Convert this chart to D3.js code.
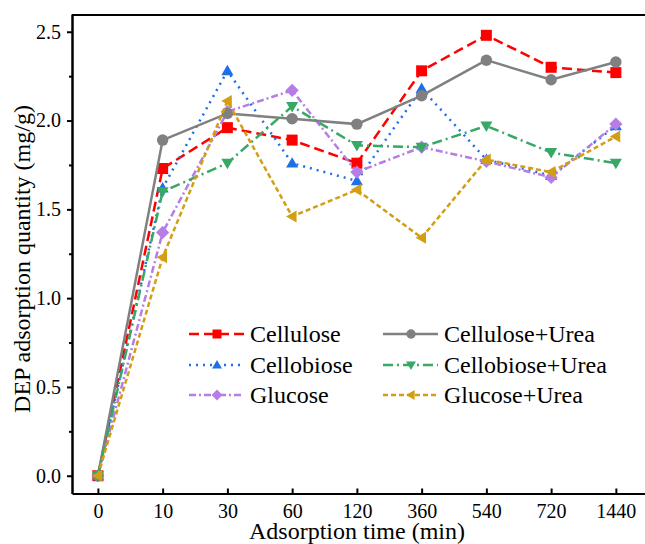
<!DOCTYPE html>
<html>
<head>
<meta charset="utf-8">
<script src="https://cdn.jsdelivr.net/npm/d3@7"></script>
<style>
  body { margin: 0; background: #fff; }
  svg { display: block; font-family: "Liberation Serif", "Times New Roman", serif; }
  svg text { font-family: "Liberation Serif", "Times New Roman", serif; fill: #000; }
  .axis path, .axis line { stroke: #000; }
  .axis text { font-size: 20px; }
</style>
</head>
<body>
<div id="chart"></div>
<script>
var times = ["0", "10", "30", "60", "120", "360", "540", "720", "1440"];

var cellulose      = [0, 1.73, 1.96, 1.89, 1.76, 2.28, 2.48, 2.30, 2.27];
var cellobiose     = [0, 1.62, 2.28, 1.76, 1.66, 2.18, 1.78, 1.69, 1.97];
var glucose        = [0, 1.37, 2.05, 2.17, 1.71, 1.85, 1.77, 1.68, 1.98];
var celluloseUrea  = [0, 1.89, 2.04, 2.01, 1.98, 2.14, 2.34, 2.23, 2.33];
var cellobioseUrea = [0, 1.60, 1.76, 2.08, 1.86, 1.85, 1.97, 1.82, 1.76];
var glucoseUrea    = [0, 1.23, 2.11, 1.46, 1.61, 1.34, 1.78, 1.71, 1.91];

var yTicks = [0, 0.5, 1.0, 1.5, 2.0, 2.5];

var series = [
  {name: "Cellulose", values: cellulose, color: "#ff0000", dash: "10,5", marker: "square"},
  {name: "Cellobiose", values: cellobiose, color: "#1e6fe6", dash: "2,5", marker: "up"},
  {name: "Glucose", values: glucose, color: "#b47ee6", dash: "7,3,2,3", marker: "diamond"},
  {name: "Cellulose+Urea", values: celluloseUrea, color: "#808080", dash: null, marker: "circle"},
  {name: "Cellobiose+Urea", values: cellobioseUrea, color: "#37a865", dash: "10,4,2,4", marker: "down"},
  {name: "Glucose+Urea", values: glucoseUrea, color: "#d29e12", dash: "5,3", marker: "left"}
];

function drawChart() {
  var W = 645, H = 544;
  var pL = 72, pR = 645, pT = 14, pB = 493.5;

  var svg = d3.select("#chart").append("svg")
      .attr("width", W)
      .attr("height", H);

  var x = d3.scaleLinear().domain([-0.4, 8.45]).range([pL, pR]),
      y = d3.scaleLinear().domain([-0.1, 2.6]).range([pB, pT]);

  /* frame top line */
  svg.append("line")
      .attr("x1", pL).attr("x2", pR)
      .attr("y1", pT + 1).attr("y2", pT + 1)
      .attr("stroke", "#000").attr("stroke-width", 2);

  /* x axis, ticks pointing inward */
  var xAxis = d3.axisBottom(x)
      .tickValues(d3.range(times.length))
      .tickFormat(function(i) { return times[i]; })
      .tickSizeInner(-5)
      .tickSizeOuter(0)
      .tickPadding(10);

  var gX = svg.append("g")
      .attr("class", "axis axis--x")
      .attr("transform", "translate(0," + pB + ")")
      .call(xAxis);
  gX.select(".domain").attr("stroke-width", 2);
  gX.selectAll(".tick line").attr("stroke-width", 2);

  /* y axis, minor ticks first */
  var yMinor = d3.axisLeft(y)
      .tickValues(d3.range(0.25, 2.6, 0.5))
      .tickFormat("")
      .tickSizeInner(3)
      .tickSizeOuter(0);
  svg.append("g")
      .attr("class", "axis axis--y-minor")
      .attr("transform", "translate(" + pL + ",0)")
      .call(yMinor)
      .call(function(g) { g.select(".domain").remove(); })
      .selectAll(".tick line").attr("stroke-width", 2);

  var yAxis = d3.axisLeft(y)
      .tickValues(yTicks)
      .tickFormat(d3.format(".1f"))
      .tickSizeInner(5)
      .tickSizeOuter(0)
      .tickPadding(6);

  var gY = svg.append("g")
      .attr("class", "axis axis--y")
      .attr("transform", "translate(" + pL + ",0)")
      .call(yAxis);
  gY.select(".domain").attr("stroke-width", 2.5);
  gY.selectAll(".tick line").attr("stroke-width", 2);

  /* axis titles */
  svg.append("text")
      .attr("x", 357)
      .attr("y", 538.5)
      .attr("text-anchor", "middle")
      .style("font-size", "24px")
      .text("Adsorption time (min)");

  svg.append("text")
      .attr("transform", "translate(30,259) rotate(-90)")
      .attr("text-anchor", "middle")
      .style("font-size", "24px")
      .text("DEP adsorption quantity (mg/g)");

  function markerPath(type, s) {
    var h = s / 2;
    if (type == "square") return "M" + (-h) + "," + (-h) + "h" + s + "v" + s + "h" + (-s) + "Z";
    if (type == "diamond") return "M0," + (-h * 1.2) + "L" + (h * 1.2) + ",0L0," + (h * 1.2) + "L" + (-h * 1.2) + ",0Z";
    if (type == "up") return "M0," + (-h * 1.1) + "L" + (h * 1.1) + "," + (h * 0.8) + "L" + (-h * 1.1) + "," + (h * 0.8) + "Z";
    if (type == "down") return "M0," + (h * 1.1) + "L" + (h * 1.1) + "," + (-h * 0.8) + "L" + (-h * 1.1) + "," + (-h * 0.8) + "Z";
    if (type == "left") return "M" + (-h * 1.1) + ",0L" + (h * 0.8) + "," + (-h * 1.1) + "L" + (h * 0.8) + "," + (h * 1.1) + "Z";
    return d3.symbol(d3.symbolCircle, s * s * 0.85)();
  }

  var line = d3.line()
      .x(function(d, i) { return x(i); })
      .y(function(d) { return y(d); });

  series.forEach(function(s) {
    var g = svg.append("g").attr("class", "series");
    g.append("path").datum(s.values)
        .attr("d", line)
        .attr("fill", "none")
        .attr("stroke", s.color)
        .attr("stroke-width", 2.5)
        .attr("stroke-dasharray", s.dash);
    g.selectAll("path.marker")
        .data(s.values)
      .enter().append("path")
        .attr("class", "marker")
        .attr("transform", function(d, i) { return "translate(" + x(i) + "," + y(d) + ")"; })
        .attr("d", markerPath(s.marker, 11))
        .attr("fill", s.color);
  });

  /* legend */
  var legCols = [189, 383],
      legRows = [334, 365, 395];

  series.forEach(function(s, k) {
    var col = k < 3 ? 0 : 1,
        row = k % 3;
    var x0 = legCols[col], yy = legRows[row];
    var lg = svg.append("g").attr("class", "legend");
    lg.append("line")
        .attr("x1", x0).attr("x2", x0 + 55)
        .attr("y1", yy).attr("y2", yy)
        .attr("stroke", s.color)
        .attr("stroke-width", 2.5)
        .attr("stroke-dasharray", s.dash);
    lg.append("path")
        .attr("transform", "translate(" + (x0 + 28) + "," + yy + ")")
        .attr("d", markerPath(s.marker, 9))
        .attr("fill", s.color);
    lg.append("text")
        .attr("x", x0 + 61)
        .attr("y", yy + 8)
        .style("font-size", "24px")
        .text(s.name);
  });
}

drawChart();
</script>
</body>
</html>
